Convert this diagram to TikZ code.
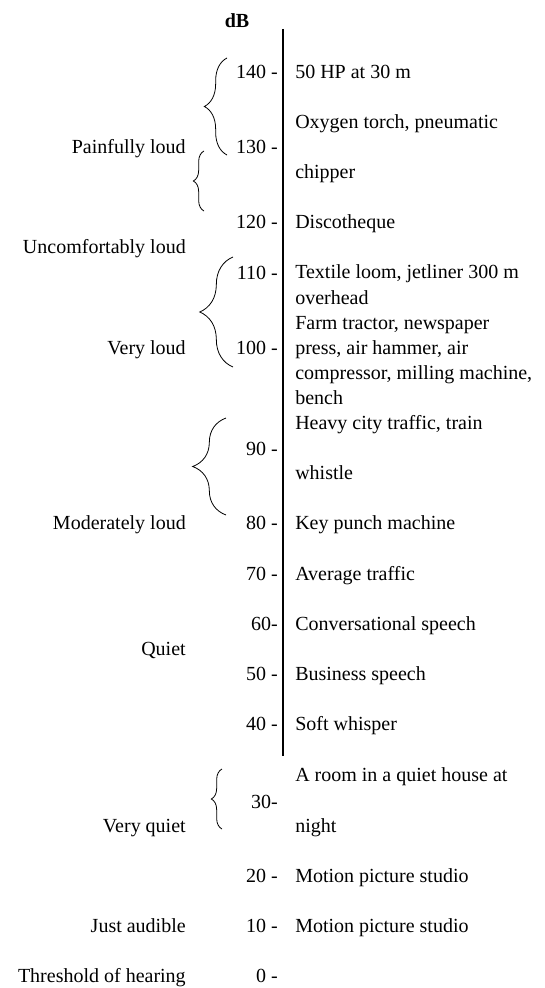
\documentclass[tikz,border=0pt]{standalone}
\usepackage{fontspec}
\setmainfont{Liberation Serif}
\usetikzlibrary{decorations.pathreplacing}

\begin{document}
\begin{tikzpicture}[x=0.75pt, y=-0.75pt,
        every node/.style={inner sep=0pt, text height=1ex, text depth=0pt, yshift=-3pt,
            font=\fontsize{15}{18}\selectfont},
        level/.style={anchor=east},
        source/.style={anchor=west},
        band/.style={anchor=east},
        grp/.style={decorate, line width=0.6pt, decoration={brace, amplitude=#1}}]
        \useasboundingbox (0, 0) rectangle (545, 988);

        % the scale
        \node[font=\bfseries\fontsize{15}{18}\selectfont] (db) at (237, 20) {dB};
        \coordinate (top) at (283, 25);
        \coordinate (bottom) at (283, 752);
        \draw[line width=0.8pt] (top) -- (bottom);

        % levels
        \node[level] (l140) at (278, 71) {140 -};
        \node[level] (l130) at (278, 146) {130 -};
        \node[level] (l120) at (278, 221) {120 -};
        \node[level] (l110) at (278, 272) {110 -};
        \node[level] (l100) at (278, 347) {100 -};
        \node[level] (l90) at (278, 448) {90 -};
        \node[level] (l80) at (278, 522) {80 -};
        \node[level] (l70) at (278, 573) {70 -};
        \node[level] (l60) at (278, 623) {60-};
        \node[level] (l50) at (278, 673) {50 -};
        \node[level] (l40) at (278, 723) {40 -};
        \node[level] (l30) at (278, 801) {30-};
        \node[level] (l20) at (278, 875) {20 -};
        \node[level] (l10) at (278, 925) {10 -};
        \node[level] (l0) at (278, 975) {0 -};

        % sources
        \node[source] (s140) at (295, 71) {50 HP at 30 m};
        \node[source] (s130a) at (295, 121) {Oxygen torch, pneumatic};
        \node[source] (s130b) at (295, 171) {chipper};
        \node[source] (s120) at (295, 221) {Discotheque};
        \node[source] (s110a) at (295, 271) {Textile loom, jetliner 300 m};
        \node[source] (s110b) at (295, 297) {overhead};
        \node[source] (s100a) at (295, 322) {Farm tractor, newspaper};
        \node[source] (s100b) at (295, 347) {press, air hammer, air};
        \node[source] (s100c) at (295, 372) {compressor, milling machine,};
        \node[source] (s100d) at (295, 397) {bench};
        \node[source] (s90a) at (295, 422) {Heavy city traffic, train};
        \node[source] (s90b) at (295, 472) {whistle};
        \node[source] (s80) at (295, 522) {Key punch machine};
        \node[source] (s70) at (295, 573) {Average traffic};
        \node[source] (s60) at (295, 623) {Conversational speech};
        \node[source] (s50) at (295, 673) {Business speech};
        \node[source] (s40) at (295, 723) {Soft whisper};
        \node[source] (s30a) at (295, 774) {A room in a quiet house at};
        \node[source] (s30b) at (295, 825) {night};
        \node[source] (s20) at (295, 875) {Motion picture studio};
        \node[source] (s10) at (295, 925) {Motion picture studio};

        % bands
        \node[band] (painful) at (186, 146) {Painfully loud};
        \node[band] (uncomf) at (186, 246) {Uncomfortably loud};
        \node[band] (vloud) at (186, 347) {Very loud};
        \node[band] (mloud) at (186, 522) {Moderately loud};
        \node[band] (quiet) at (186, 648) {Quiet};
        \node[band] (vquiet) at (186, 825) {Very quiet};
        \node[band] (audible) at (186, 925) {Just audible};
        \node[band] (threshold) at (186, 975) {Threshold of hearing};

        % braces
        \draw[grp=17pt] (227, 155) -- (227, 58);
        \draw[grp=8pt] (204, 211) -- (204, 151);
        \draw[grp=25pt] (233, 367) -- (233, 257);
        \draw[grp=25pt] (226, 515) -- (226, 418);
        \draw[grp=8pt] (222, 829) -- (222, 769);
\end{tikzpicture}
\end{document}
